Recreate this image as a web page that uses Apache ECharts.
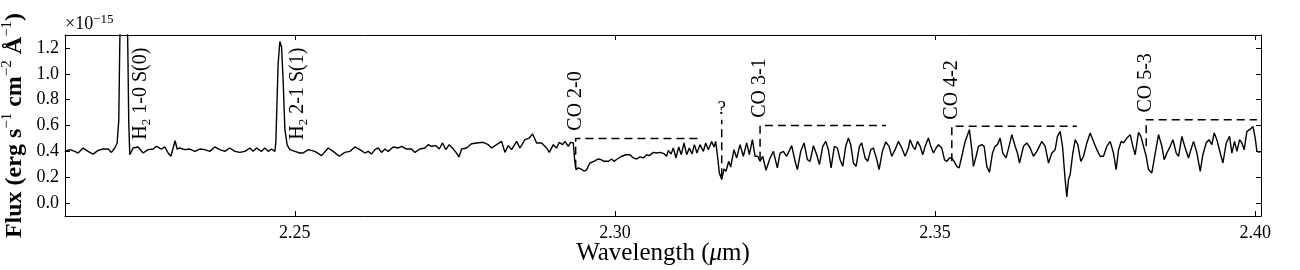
<!DOCTYPE html>
<html><head><meta charset="utf-8">
<script src="https://cdn.jsdelivr.net/npm/echarts@6/dist/echarts.min.js"></script>
<style>html,body{margin:0;padding:0;background:#fff}#c{width:1300px;height:270px}</style>
</head><body><div id="c"></div>
<script>
// Spectrum: [wavelength (um), flux (1e-15 erg s-1 cm-2 A-1)]
const spectrum = [
[2.21406,0.400],[2.21484,0.413],[2.21563,0.400],[2.21615,0.387],[2.21693,0.426],[2.21771,0.400],[2.21849,0.379],[2.21927,0.408],[2.22005,0.418],[2.22083,0.418],[2.22135,0.392],[2.22188,0.426],[2.22224,0.465],[2.22250,0.64],[2.22273,1.5],[2.22328,2.4],[2.22383,1.5],[2.22406,0.62],[2.22422,0.374],[2.22474,0.426],[2.22552,0.434],[2.22630,0.387],[2.22708,0.413],[2.22786,0.418],[2.22839,0.439],[2.22917,0.418],[2.22969,0.434],[2.23021,0.387],[2.23063,0.362],[2.23099,0.426],[2.23130,0.482],[2.23161,0.418],[2.23203,0.426],[2.23281,0.413],[2.23359,0.418],[2.23438,0.400],[2.23516,0.418],[2.23594,0.413],[2.23672,0.400],[2.23750,0.434],[2.23828,0.413],[2.23906,0.400],[2.23984,0.426],[2.24063,0.400],[2.24141,0.392],[2.24219,0.400],[2.24297,0.426],[2.24349,0.400],[2.24401,0.426],[2.24479,0.400],[2.24531,0.426],[2.24583,0.400],[2.24635,0.418],[2.24688,0.400],[2.24703,0.47],[2.24739,1.08],[2.24766,1.25],[2.24792,1.21],[2.24817,0.95],[2.24844,0.57],[2.24880,0.45],[2.24922,0.413],[2.25000,0.400],[2.25078,0.387],
[2.25130,0.387],[2.25208,0.413],[2.25313,0.400],[2.25417,0.367],[2.25521,0.426],[2.25599,0.400],[2.25693,0.362],[2.25781,0.392],[2.25859,0.400],[2.25938,0.434],[2.26016,0.413],[2.26094,0.387],[2.26146,0.400],[2.26198,0.379],[2.26250,0.413],[2.26302,0.426],[2.26354,0.392],[2.26406,0.418],[2.26458,0.400],[2.26536,0.434],[2.26615,0.426],[2.26667,0.439],[2.26745,0.418],[2.26823,0.418],[2.26875,0.392],[2.26953,0.418],[2.27031,0.426],[2.27083,0.452],[2.27135,0.439],[2.27203,0.444],[2.27255,0.418],[2.27307,0.465],[2.27359,0.413],[2.27411,0.452],[2.27474,0.418],[2.27516,0.392],[2.27563,0.357],[2.27604,0.418],[2.27682,0.426],[2.27760,0.459],[2.27839,0.465],[2.27943,0.470],[2.28021,0.452],[2.28073,0.426],[2.28151,0.452],[2.28229,0.477],[2.28281,0.392],[2.28333,0.444],[2.28385,0.413],[2.28464,0.477],[2.28516,0.426],[2.28594,0.490],[2.28661,0.503],[2.28714,0.534],[2.28776,0.465],[2.28854,0.465],
[2.28880,0.470],[2.28932,0.426],[2.28974,0.392],[2.29036,0.452],[2.29089,0.426],[2.29130,0.470],[2.29182,0.452],[2.29219,0.477],[2.29271,0.439],[2.29307,0.470],[2.29349,0.465],[2.29370,0.336],[2.29391,0.259],[2.29427,0.272],[2.29464,0.264],[2.29521,0.246],[2.29557,0.259],[2.29609,0.310],[2.29672,0.323],[2.29740,0.341],[2.29781,0.336],[2.29828,0.323],[2.29896,0.323],[2.29948,0.341],[2.29984,0.323],[2.30036,0.341],[2.30104,0.362],[2.30172,0.374],[2.30234,0.374],[2.30286,0.349],[2.30339,0.341],[2.30391,0.357],[2.30443,0.349],[2.30495,0.374],[2.30536,0.367],[2.30599,0.392],[2.30651,0.387],[2.30703,0.392],[2.30766,0.382],[2.30807,0.362],[2.30833,0.408],[2.30875,0.379],[2.30911,0.426],[2.30953,0.349],[2.30995,0.434],[2.31036,0.374],[2.31078,0.465],[2.31120,0.374],[2.31161,0.426],[2.31203,0.379],[2.31240,0.452],[2.31281,0.387],[2.31328,0.452],[2.31380,0.400],[2.31417,0.465],[2.31458,0.413],[2.31510,0.477],[2.31547,0.434],[2.31573,0.477],[2.31599,0.374],[2.31630,0.233],[2.31667,0.182],[2.31703,0.264],[2.31734,0.246],[2.31776,0.323],[2.31807,0.279],[2.31859,0.413],[2.31901,0.349],[2.31953,0.452],[2.32005,0.362],[2.32057,0.465],[2.32099,0.374],[2.32146,0.490],[2.32188,0.362],[2.32229,0.362],[2.32266,0.323],[2.32307,0.362],[2.32359,0.254],[2.32422,0.349],[2.32474,0.400],[2.32536,0.272],
[2.32578,0.387],[2.32630,0.400],[2.32682,0.362],[2.32760,0.444],[2.32813,0.323],[2.32849,0.259],[2.32901,0.400],[2.32953,0.465],[2.33005,0.336],[2.33047,0.323],[2.33099,0.444],[2.33151,0.374],[2.33193,0.297],[2.33245,0.439],[2.33292,0.477],[2.33333,0.413],[2.33375,0.272],[2.33427,0.439],[2.33474,0.426],[2.33516,0.336],[2.33557,0.284],[2.33604,0.439],[2.33646,0.503],[2.33682,0.452],[2.33724,0.310],[2.33766,0.284],[2.33818,0.439],[2.33854,0.465],[2.33906,0.349],[2.33948,0.323],[2.33995,0.413],[2.34036,0.426],[2.34089,0.336],[2.34125,0.259],[2.34177,0.400],[2.34229,0.472],[2.34281,0.439],[2.34323,0.362],[2.34375,0.413],[2.34427,0.477],[2.34479,0.426],[2.34531,0.362],[2.34583,0.426],[2.34609,0.490],[2.34651,0.439],[2.34688,0.413],[2.34724,0.477],[2.34766,0.439],[2.34807,0.374],[2.34844,0.439],[2.34896,0.503],[2.34932,0.439],[2.34974,0.387],[2.35016,0.426],[2.35052,0.452],[2.35104,0.426],[2.35146,0.336],[2.35182,0.323],[2.35224,0.349],[2.35260,0.349],[2.35297,0.323],[2.35339,0.284],[2.35375,0.272],[2.35417,0.362],[2.35469,0.477],[2.35536,0.568],[2.35573,0.413],[2.35599,0.284],[2.35641,0.362],[2.35677,0.439],[2.35729,0.452],[2.35766,0.439],[2.35807,0.284],[2.35849,0.238],[2.35896,0.387],[2.35938,0.439],[2.35974,0.452],[2.36016,0.503],[2.36057,0.387],[2.36109,0.349],[2.36161,0.452],[2.36198,0.529],[2.36250,0.439],[2.36286,0.387],[2.36318,0.310],
[2.36380,0.439],[2.36432,0.465],[2.36484,0.426],[2.36536,0.362],[2.36589,0.400],[2.36667,0.477],[2.36719,0.439],[2.36771,0.310],[2.36823,0.387],[2.36875,0.413],[2.36911,0.516],[2.36953,0.555],[2.36990,0.439],[2.37031,0.182],[2.37057,0.048],[2.37083,0.182],[2.37109,0.220],[2.37151,0.387],[2.37188,0.490],[2.37229,0.452],[2.37276,0.323],[2.37318,0.362],[2.37370,0.465],[2.37422,0.542],[2.37474,0.477],[2.37526,0.413],[2.37578,0.362],[2.37630,0.362],[2.37682,0.439],[2.37734,0.477],[2.37786,0.387],[2.37828,0.259],[2.37865,0.413],[2.37906,0.477],[2.37943,0.465],[2.37995,0.503],[2.38047,0.529],[2.38089,0.439],[2.38125,0.374],[2.38177,0.547],[2.38214,0.516],[2.38255,0.439],[2.38297,0.362],[2.38333,0.259],[2.38385,0.233],[2.38438,0.387],[2.38490,0.529],[2.38542,0.439],[2.38578,0.336],[2.38620,0.387],[2.38672,0.439],[2.38714,0.490],[2.38766,0.387],[2.38802,0.362],[2.38854,0.516],[2.38906,0.426],[2.38958,0.349],[2.38995,0.413],[2.39036,0.477],[2.39089,0.387],[2.39141,0.246],[2.39182,0.374],[2.39234,0.465],[2.39276,0.490],[2.39323,0.452],[2.39359,0.542],[2.39401,0.490],[2.39453,0.387],[2.39495,0.310],[2.39547,0.465],[2.39599,0.516],[2.39635,0.387],[2.39677,0.477],[2.39714,0.400],[2.39755,0.490],[2.39792,0.465],[2.39828,0.413],[2.39870,0.555],[2.39911,0.568],[2.39964,0.593],[2.40000,0.503],[2.40026,0.400],[2.40078,0.392]
];

const xRange = [2.2141, 2.4009];
const yRange = [-0.1, 1.3];
const xTicks = [2.25, 2.30, 2.35, 2.40];
const yTicks = [0.0, 0.2, 0.4, 0.6, 0.8, 1.0, 1.2];

// CO bandhead brackets
const bandLabels = ['CO 2-0', 'CO 3-1', 'CO 4-2', 'CO 5-3'];
const bandHeads  = [2.29386, 2.32266, 2.35261, 2.38297];
const bandEnds   = [2.31355, 2.34234, 2.37214, 2.40026];
const bandTops   = [0.50, 0.60, 0.595, 0.645];
const bandBottoms= [0.274, 0.336, 0.323, 0.44];
const bandLabelBase = [0.56, 0.66, 0.645, 0.70];

// unidentified feature
const unknownX = 2.31667, unknownTop = 0.645, unknownBottom = 0.207, unknownLabelBase = 0.655;

// H2 lines
const h2Names = ['1-0 S(0)', '2-1 S(1)'];
const h2Pos = [2.22594, 2.25047];
const h2LabelBase = 0.49;

const FONT = "'Liberation Serif', 'DejaVu Serif', serif";
const chart = echarts.init(document.getElementById('c'), null, {renderer: 'canvas'});

const series = [{
  type: 'line', data: spectrum, symbol: 'none', clip: true, animation: false,
  lineStyle: {color: '#000', width: 1.4}, z: 3
}];
bandHeads.forEach((h, i) => {
  series.push({
    type: 'line', symbol: 'none', animation: false,
    data: [[h, bandBottoms[i]], [h, bandTops[i]], [bandEnds[i], bandTops[i]]],
    lineStyle: {color: '#000', width: 1.5, type: [8, 5]}, z: 2
  });
});
series.push({
  type: 'line', symbol: 'none', animation: false,
  data: [[unknownX, unknownBottom], [unknownX, unknownTop]],
  lineStyle: {color: '#000', width: 1.5, type: [8, 5]}, z: 2
});

const labelBase = {show: true, position: 'inside', rotate: 90, align: 'left', verticalAlign: 'middle',
  color: '#000', opacity: 1, textBorderWidth: 0, fontFamily: FONT, fontSize: 20,
  rich: {a: {fontFamily: FONT, fontSize: 20, color: '#000', lineHeight: 24, textBorderWidth: 0},
         s: {fontFamily: FONT, fontSize: 13, color: '#000', verticalAlign: 'bottom', lineHeight: 13, textBorderWidth: 0}}};
const labelData = [];
bandLabels.forEach((t, i) => labelData.push({value: [bandHeads[i], bandLabelBase[i]], label: Object.assign({}, labelBase, {formatter: '{a|' + t + '}'})}));
h2Names.forEach((t, i) => labelData.push({value: [h2Pos[i], h2LabelBase], label: Object.assign({}, labelBase, {formatter: '{a|H}{s|2}{a| ' + t + '}'})}));
labelData.push({value: [unknownX, unknownLabelBase], label: {show: true, position: 'inside', rotate: 0, align: 'center', verticalAlign: 'bottom', color: '#000', opacity: 1, textBorderWidth: 0, fontFamily: FONT, fontSize: 19, formatter: '?'}});
series.push({type: 'scatter', data: labelData, symbolSize: 1, itemStyle: {color: '#fff', opacity: 0}, animation: false, z: 5,
  emphasis: {disabled: true}, labelLayout: {hideOverlap: false}});

const axisCommon = {
  axisLine: {show: true, onZero: false, lineStyle: {color: '#000', width: 1}},
  splitLine: {show: false}
};
const option = {
  animation: false,
  backgroundColor: '#fff',
  grid: {left: 65, top: 35, width: 1196, height: 181, containLabel: false, outerBoundsMode: 'none'},
  xAxis: [
    Object.assign({}, axisCommon, {
      type: 'value', min: xRange[0], max: xRange[1], position: 'bottom',
      axisTick: {show: true, inside: true, length: 5, customValues: xTicks, lineStyle: {color: '#000'}},
      axisLabel: {show: true, customValues: xTicks, formatter: v => v.toFixed(2), fontFamily: FONT, fontSize: 18, color: '#000', margin: 8},
      name: '{n|Wavelength (}{i|μ}{n|m)}', nameLocation: 'middle', nameGap: 25, nameMoveOverlap: false,
      nameTextStyle: {rich: {n: {fontFamily: FONT, fontSize: 25, color: '#000'}, i: {fontFamily: FONT, fontSize: 25, fontStyle: 'italic', color: '#000'}}}
    }),
    Object.assign({}, axisCommon, {
      type: 'value', min: xRange[0], max: xRange[1], position: 'top',
      axisTick: {show: true, inside: true, length: 5, customValues: xTicks, lineStyle: {color: '#000'}},
      axisLabel: {show: false}
    })
  ],
  yAxis: [
    Object.assign({}, axisCommon, {
      type: 'value', min: yRange[0], max: yRange[1], position: 'left',
      axisTick: {show: true, inside: true, length: 5, customValues: yTicks, lineStyle: {color: '#000'}},
      axisLabel: {show: true, customValues: yTicks, formatter: v => v.toFixed(1), fontFamily: FONT, fontSize: 18, color: '#000', margin: 6},
      name: '{b|Flux (erg s}{p|−1}{b| cm}{p|−2}{b| Å}{p|−1}{b|)}', nameLocation: 'middle', nameGap: 35, nameMoveOverlap: false,
      nameTextStyle: {rich: {
        b: {fontFamily: FONT, fontSize: 24, fontWeight: 'bold', color: '#000', lineHeight: 30},
        p: {fontFamily: FONT, fontSize: 15, color: '#000', verticalAlign: 'top', lineHeight: 15}
      }}
    }),
    Object.assign({}, axisCommon, {
      type: 'value', min: yRange[0], max: yRange[1], position: 'right',
      axisTick: {show: true, inside: true, length: 5, customValues: yTicks, lineStyle: {color: '#000'}},
      axisLabel: {show: false}
    })
  ],
  graphic: [{
    type: 'text', left: 65, top: 13,
    style: {text: '{a|×10}{p|−15}', rich: {
      a: {fontFamily: FONT, fontSize: 18, fill: '#000', lineHeight: 22},
      p: {fontFamily: FONT, fontSize: 13, fill: '#000', verticalAlign: 'top', lineHeight: 13}
    }}
  }],
  series: series
};
chart.setOption(option);
</script></body></html>
